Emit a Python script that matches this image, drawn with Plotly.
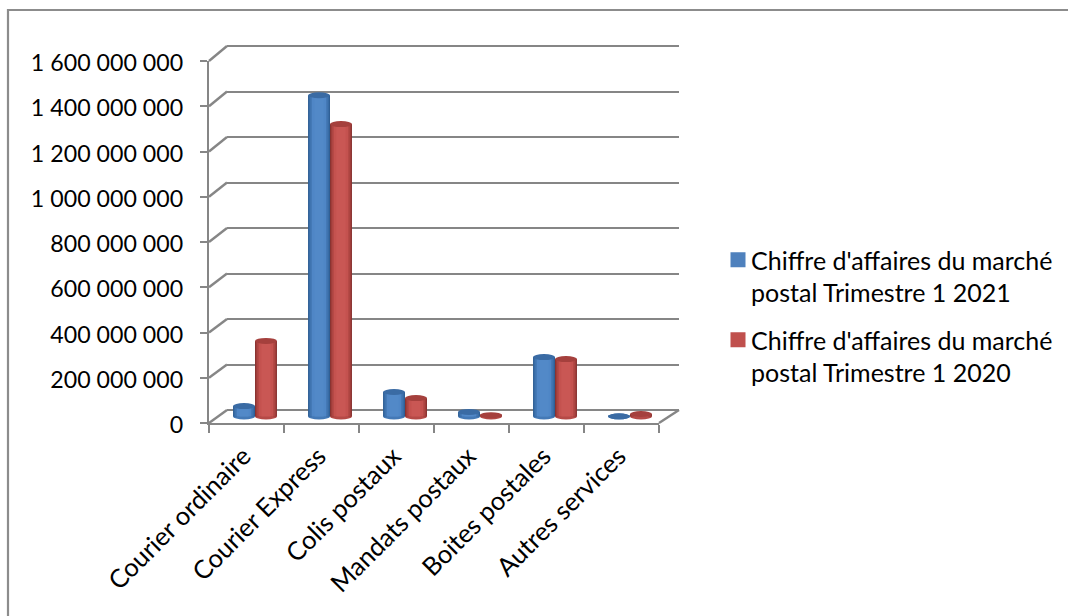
import plotly.graph_objects as go

categories = ["Courier ordinaire", "Courier Express", "Colis postaux", "Mandats postaux", "Boites postales", "Autres services"]
values_2021 = [46000000, 1416000000, 108000000, 20000000, 262000000, 1000000]
values_2020 = [333000000, 1289000000, 81000000, 6000000, 253000000, 11000000]
name_2021 = "Chiffre d'affaires du marché<br>postal Trimestre 1 2021"
name_2020 = "Chiffre d'affaires du marché<br>postal Trimestre 1 2020"
tick_values = [0, 200000000, 400000000, 600000000, 800000000, 1000000000, 1200000000, 1400000000, 1600000000]

W, H = 1068, 616
GREY = "#868686"
FONT = "Lato"
YMAX = 1600000000


def px(v):
    return v / W


def py(v):
    return 1 - v / H


BAR_W = 0.293
SHADES = {
    "blue": (["#2f5f96", "#3a6ea8", "#4479b6", "#4f86c6", "#5289c8"], "#3a6ba4"),
    "red": (["#8a3331", "#a23f3c", "#b54a47", "#c4524f", "#c95754"], "#a5403d"),
}
FRACS = [1.0, 0.9, 0.78, 0.64, 0.42]

fig = go.Figure()

# wall (back) subplot
fig.add_trace(go.Scatter(x=[0, 1], y=[0, YMAX], mode="none", xaxis="x", yaxis="y", showlegend=False, hoverinfo="skip"))
# front axes subplot
fig.add_trace(go.Scatter(x=categories, y=[0] * len(categories), mode="none", xaxis="x2", yaxis="y2", showlegend=False, hoverinfo="skip"))

shapes = []
series = [
    (values_2021, name_2021, "blue", -BAR_W / 2, "#4f81bd"),
    (values_2020, name_2020, "red", BAR_W / 2, "#c0504d"),
]
idx = list(range(len(categories)))
for vals, name, key, off, legend_color in series:
    xs = [i + off for i in idx]
    shades, cap = SHADES[key]
    # legend entry uses the plain series colour
    fig.add_trace(go.Bar(x=[None], y=[None], name=name, marker=dict(color=legend_color, line=dict(color=legend_color, width=3)),
                         xaxis="x3", yaxis="y3", legendgroup=key, showlegend=True))
    for frac, col in zip(FRACS, shades):
        w = BAR_W * frac
        fig.add_trace(go.Bar(x=xs, y=vals, width=w, offset=-w / 2, marker=dict(color=col, line_width=0),
                             xaxis="x3", yaxis="y3", showlegend=False, legendgroup=key, hoverinfo="skip"))
    for x, v in zip(xs, vals):
        # base ellipse (below the bar) and top cap
        shapes.append(dict(type="circle", xref="x3", yref="y3", ysizemode="pixel", yanchor=0,
                           x0=x - BAR_W / 2, x1=x + BAR_W / 2, y0=-3, y1=3,
                           fillcolor=shades[2], line_width=0, layer="below"))
        shapes.append(dict(type="circle", xref="x3", yref="y3", ysizemode="pixel", yanchor=v,
                           x0=x - BAR_W / 2, x1=x + BAR_W / 2, y0=-3, y1=3,
                           fillcolor=cap, line_width=0, layer="above"))

# perspective connectors from the front axis to the back wall
FY0, FY1 = 423.0, 61.0
BY0, BY1 = 410.0, 46.0
PAD = 20000000
PAD_PX = (BY0 - BY1) / YMAX * PAD
for t in tick_values:
    r = t / YMAX
    shapes.append(dict(type="line", xref="paper", yref="paper",
                       x0=px(209), y0=py(FY0 + (FY1 - FY0) * r), x1=px(227), y1=py(BY0 + (BY1 - BY0) * r),
                       line=dict(color=GREY, width=2.4), layer="below"))
shapes.append(dict(type="line", xref="paper", yref="paper", x0=px(659), y0=py(423), x1=px(679), y1=py(410),
                   line=dict(color=GREY, width=2.4), layer="below"))
# chart border
shapes.append(dict(type="rect", xref="paper", yref="paper", x0=px(8), y0=py(10), x1=px(1080), y1=py(630),
                   line=dict(color="#8c8c8c", width=2.2), fillcolor="rgba(0,0,0,0)", layer="below"))

fig.update_layout(
    width=W, height=H,
    margin=dict(l=0, r=0, t=0, b=0),
    paper_bgcolor="white", plot_bgcolor="rgba(0,0,0,0)",
    barmode="overlay",
    separators=", ",
    font=dict(family=FONT, size=23, color="#000000"),
    shapes=shapes,
    legend=dict(x=px(718), y=py(237), xanchor="left", yanchor="top", valign="top", indentation=-7,
                font=dict(family=FONT, size=25), tracegroupgap=12, bgcolor="rgba(0,0,0,0)",
                itemclick=False, itemdoubleclick=False),
    xaxis=dict(domain=[px(227), px(679)], range=[0, 1], visible=False),
    yaxis=dict(domain=[py(BY0 + PAD_PX), py(BY1 - PAD_PX)], range=[-PAD, YMAX + PAD], tickvals=tick_values, showgrid=True,
               gridcolor=GREY, gridwidth=2.4, zeroline=False, showticklabels=False, ticks="", showline=False,
               anchor="x"),
    xaxis2=dict(domain=[px(209), px(659)], type="category", categoryorder="array", categoryarray=categories,
                range=[-0.5, 5.5], anchor="y2", tickson="boundaries", ticks="outside", ticklen=8,
                tickwidth=2, tickcolor=GREY, showline=True, linecolor=GREY, linewidth=2.4, showgrid=False,
                tickangle=-45, tickfont=dict(family=FONT, size=25.5), automargin=False,
                ticklabelstandoff=6, ticklabelshift=-3),
    yaxis2=dict(domain=[py(FY0), py(FY1)], range=[0, YMAX], anchor="x2", tickvals=tick_values,
                tickformat=",d", ticks="outside", ticklen=7, tickwidth=2, tickcolor=GREY,
                showline=True, linecolor=GREY, linewidth=2.4, showgrid=False, zeroline=False,
                ticklabelstandoff=12, ticklabelshift=2, tickfont=dict(family=FONT, size=23.2), automargin=False),
    xaxis3=dict(domain=[px(217.5), px(667.5)], range=[-0.5, 5.5], visible=False, anchor="y3"),
    yaxis3=dict(domain=[py(416.5 + 363 / YMAX * PAD), py(53.5)], range=[-PAD, YMAX], visible=False, anchor="x3"),
)

POST = """
document.body.style.margin='0';document.documentElement.style.overflow='hidden';
function shiftSwatches(){document.querySelectorAll('.legendsymbols').forEach(function(el){
  if(el.__moved){return;} el.__moved=true;
  el.setAttribute('transform','translate(7,0) '+(el.getAttribute('transform')||''));});}
shiftSwatches();
setTimeout(shiftSwatches,50);
"""
fig.write_html("out.html", config={"displayModeBar": False}, post_script=POST)
